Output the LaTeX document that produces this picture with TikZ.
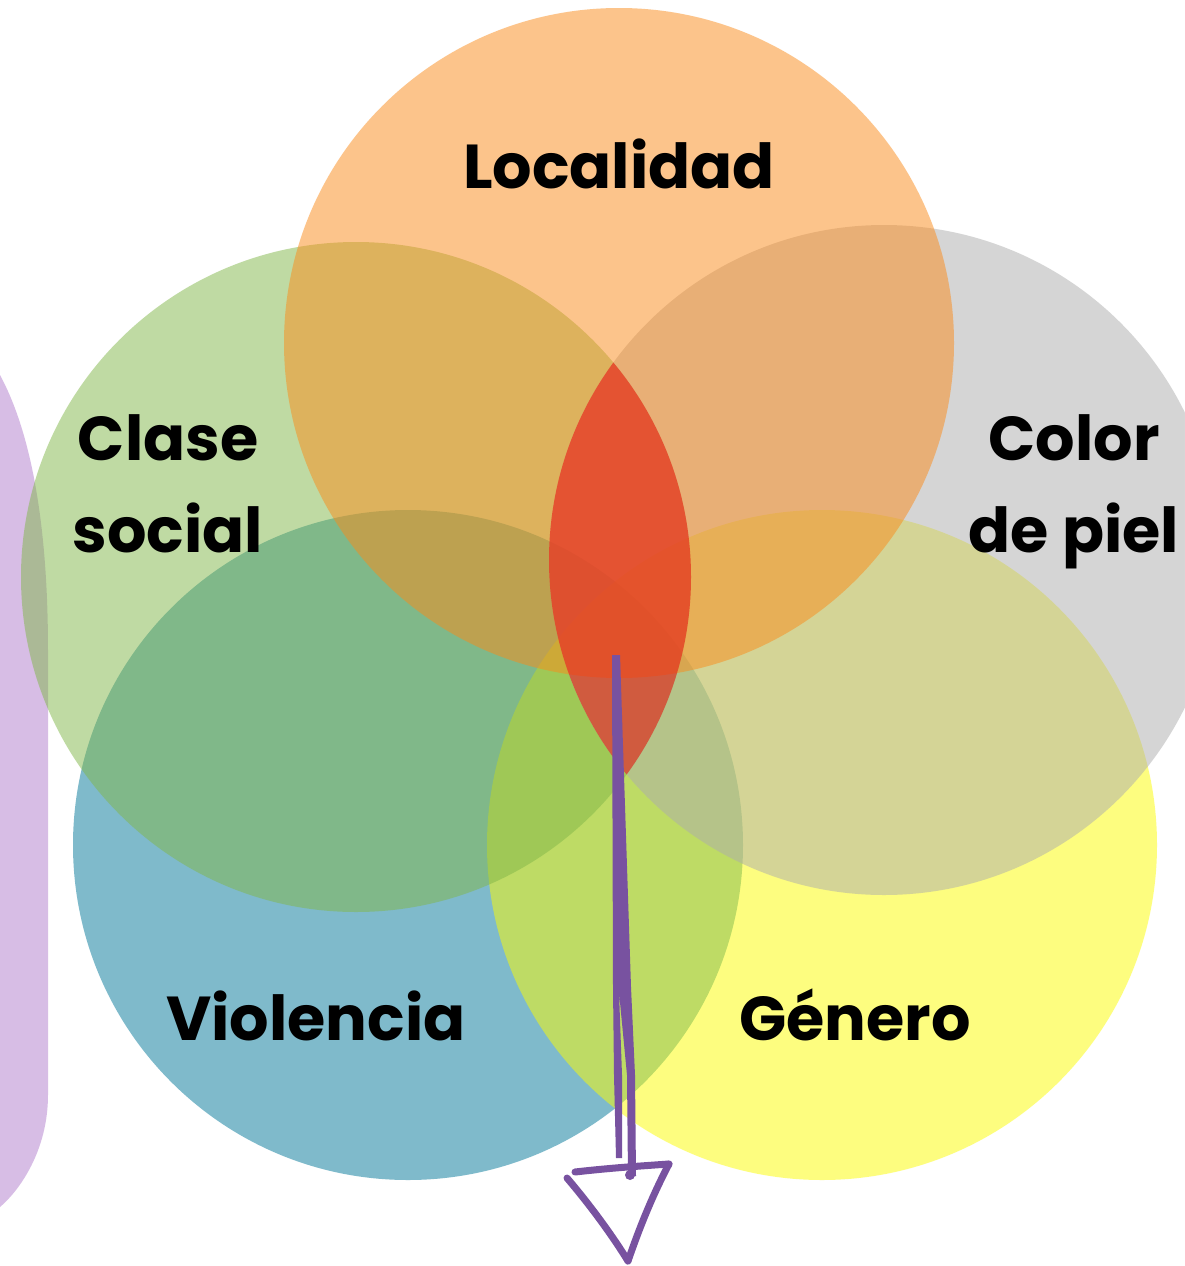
\documentclass[tikz,border=0pt]{standalone}
\usepackage{fontspec}
\setmainfont{Poppins}
\definecolor{purpleC}{RGB}{177,125,205}
\definecolor{blueC}{RGB}{1,119,153}
\definecolor{yellowC}{RGB}{253,253,0}
\definecolor{greenC}{RGB}{129,183,73}
\definecolor{grayC}{RGB}{173,173,173}
\definecolor{orangeC}{RGB}{251,139,25}
\definecolor{redC}{RGB}{237,28,20}
\definecolor{arrowC}{RGB}{120,82,160}
\begin{document}
\begin{tikzpicture}[x=1pt,y=-1pt,
  venn/.style={circle,minimum size=670pt,inner sep=0pt,draw=none,fill=#1,fill opacity=0.5},
  lbl/.style={font=\fontsize{62}{92}\selectfont\bfseries,text=black,align=center,inner sep=0pt},
  pen/.style={draw=arrowC,line width=7pt,line cap=round,line join=round}]
\useasboundingbox (0,0) rectangle (1184,1266);
\fill[white] (0,0) rectangle (1184,1266);
% purple side band
\fill[fill=purpleC,fill opacity=0.5] (-200,375) -- (0,375) .. controls (35,440) and (48,540) .. (48,650)
  -- (48,1095) .. controls (48,1150) and (20,1190) .. (0,1207) -- (-200,1207) -- cycle;
% circles
\node[venn=blueC]   (viol)  at (408,845) {};
\node[venn=yellowC] (gen)   at (822,845) {};
\node[venn=greenC]  (clase) at (356,577) {};
\node[venn=grayC]   (color) at (884,560) {};
\node[venn=orangeC] (loc)   at (619,343) {};
% red lens
\begin{scope}
\clip (clase.center) circle[radius=335];
\fill[fill=redC,fill opacity=0.6] (color.center) circle[radius=335];
\end{scope}
% labels
\node[lbl,anchor=base] (tloc)   at (619,188)  {Localidad};
\node[lbl,anchor=base] (tclase) at (168,552)  {Clase\\social};
\node[lbl,anchor=base] (tcolor) at (1074,552) {Color\\de piel};
\node[lbl,anchor=base] (tviol)  at (316,1040) {Violencia};
\node[lbl,anchor=base] (tgen)   at (855,1040) {Género};
% hand-drawn arrow
\coordinate (s0) at (616,655);
\coordinate (hl) at (575,1172);
\coordinate (hr) at (669,1164);
\coordinate (ht) at (628,1261);
\coordinate (hs) at (567,1178);
\fill[arrowC] (612,655) -- (620,655) -- (631,987) -- (635,1075) -- (636,1176) -- (628,1178)
  -- (627,1075) -- (619,992) -- (622,1075) -- (622,1158) -- (616,1158) -- (614,1075) -- (613,987) -- cycle;
\fill[arrowC] (630,1175) circle[radius=5];
\draw[pen] (hl) .. controls (610,1168) and (640,1166) .. (hr);
\draw[pen] (hr) .. controls (650,1200) and (637,1235) .. (ht);
\draw[pen] (hs) .. controls (590,1205) and (612,1235) .. (ht);
\end{tikzpicture}
\end{document}
